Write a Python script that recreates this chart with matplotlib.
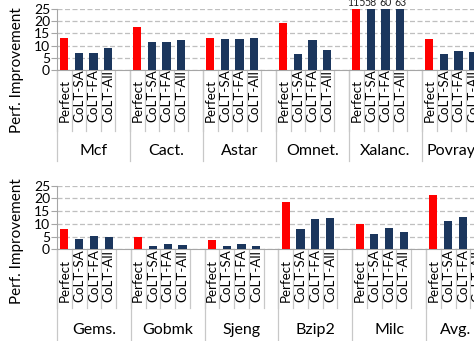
import matplotlib
matplotlib.use("Agg")
import matplotlib.pyplot as plt
import matplotlib.transforms as mtransforms

plt.rcParams['font.family'] = ['Lato', 'DejaVu Sans']

configs = ["Perfect", "CoLT-SA", "CoLT-FA", "CoLT-All"]

top_benchmarks = ["Mcf", "Cact.", "Astar", "Omnet.", "Xalanc.", "Povray"]
top_values = [
    [13.2, 7.1, 7.0, 9.1],
    [17.7, 11.5, 11.6, 12.3],
    [13.2, 12.6, 12.9, 13.0],
    [19.4, 6.6, 12.3, 8.1],
    [115, 58, 60, 63],
    [12.7, 6.6, 7.9, 7.4],
]

bottom_benchmarks = ["Gems.", "Gobmk", "Sjeng", "Bzip2", "Milc", "Avg."]
bottom_values = [
    [8.0, 3.9, 5.1, 4.8],
    [4.8, 1.3, 2.1, 1.8],
    [3.7, 1.2, 2.1, 1.4],
    [18.6, 8.0, 11.8, 12.3],
    [9.9, 6.0, 8.2, 6.8],
    [21.3, 11.1, 12.8, 12.8],
]

colors = ["#FF0000", "#1B365D", "#1B365D", "#1B365D"]
W, H = 474, 341
YMAX = 25
SLOTS = 5  # four bars plus an empty slot per benchmark

fig = plt.figure(figsize=(W / 100, H / 100), dpi=100)


def fy(px):
    # pixel row (from top) -> figure fraction
    return 1 - px / H


def panel(left, width_px, y0, y25, names, values, lab_bot, sep_bot, grp_y, grp_bot):
    ax = fig.add_axes([left / W, fy(y0), width_px / W, (y0 - y25) / H])
    ppu = (y0 - y25) / YMAX
    positions, labels = [], []
    for g, vals in enumerate(values):
        for i, v in enumerate(vals):
            x = g * SLOTS + i
            ax.bar(x, v, width=0.55, color=colors[i], zorder=3)
            positions.append(x)
            labels.append(configs[i])
            if v > YMAX:
                # off-scale bars get their value printed above the clip line
                ax.text(x, YMAX + 3 / ppu, str(v), ha="center", va="baseline",
                        fontsize=7.6, color="#222222", clip_on=False)
    ax.set_xlim(-0.5, len(values) * SLOTS - 0.5)
    ax.set_ylim(0, YMAX)
    ax.set_yticks(range(0, 26, 5))
    ax.tick_params(axis="y", labelsize=10, length=4, color="#A6A6A6", pad=1)
    ax.set_xticks([])
    ax.grid(axis="y", linestyle=(0, (4, 2)), color="#BFBFBF", linewidth=0.9, zorder=0)
    for s in ["top", "right"]:
        ax.spines[s].set_visible(False)
    for s in ["left", "bottom"]:
        ax.spines[s].set_color("#A6A6A6")

    tr = mtransforms.blended_transform_factory(ax.transData, fig.transFigure)
    for x, lab in zip(positions, labels):
        ax.text(x, fy(lab_bot), lab, rotation=90, ha="center", va="bottom",
                fontsize=9.6, transform=tr, clip_on=False)
    for g, name in enumerate(names):
        start = g * SLOTS - 0.5
        for k in range(SLOTS):
            ax.plot([start + k, start + k], [fy(y0), fy(sep_bot)], color="#C8C8C8",
                    linewidth=0.9, transform=tr, clip_on=False)
        ax.plot([start, start], [fy(y0), fy(grp_bot)], color="#C8C8C8",
                linewidth=0.9, transform=tr, clip_on=False)
        # last group runs past the edge, so its name sits over the bars
        cx = start + (2.0 if g == len(names) - 1 else SLOTS / 2)
        ax.text(cx, fy(grp_y), name, ha="center", va="center",
                fontsize=11.5, transform=tr, clip_on=False)
    return ax


panel(57, 6 * 73, 70, 9, top_benchmarks, top_values, 122, 131, 151, 161)
panel(57, 6 * 73.8, 249.3, 185.7, bottom_benchmarks, bottom_values, 302, 308, 330, 341)

fig.text(17 / W, fy(70), "Perf. Improvement", rotation=90, ha="center", va="center", fontsize=11)
fig.text(17 / W, fy(241), "Perf. Improvement", rotation=90, ha="center", va="center", fontsize=11)

fig.savefig("out.png", dpi=100)
